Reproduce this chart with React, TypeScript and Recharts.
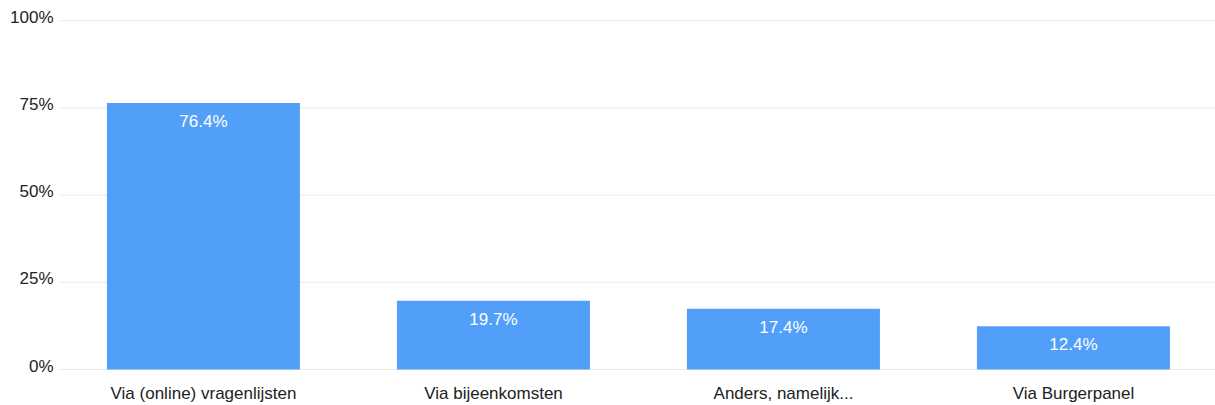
import React from 'react';
import { BarChart, Bar, XAxis, YAxis, CartesianGrid, LabelList } from 'recharts';

const categories = ['Via (online) vragenlijsten', 'Via bijeenkomsten', 'Anders, namelijk...', 'Via Burgerpanel'];
const percentages = [76.4, 19.7, 17.4, 12.4];
const yTicks = [0, 25, 50, 75, 100];

const data = categories.map((name, i) => ({ name, value: percentages[i] }));

const font = '"Liberation Sans", Arial, sans-serif';

const YTick = (props: any) => {
    const { x, y, payload } = props;
    return (
        <text x={x} y={y} dy={2} textAnchor="end" fill="#222" fontSize={17} fontFamily={font}>
            {payload.value}%
        </text>
    );
};

const XTick = (props: any) => {
    const { x, y, payload } = props;
    return (
        <text x={x} y={y} dy={12} textAnchor="middle" fill="#222" fontSize={17} fontFamily={font}>
            {payload.value}
        </text>
    );
};

const App: React.FC = () => {
    return (
        <div style={{ position: 'absolute', top: 0, left: 0, width: 1215, height: 405, overflow: 'hidden' }}>
            <BarChart
                width={1218.5}
                height={405}
                data={data}
                margin={{ top: 20.7, right: 0, left: 0, bottom: 0 }}
                barCategoryGap="16.7%"
                style={{ overflow: 'visible' }}
            >
                <CartesianGrid vertical={false} stroke="#ebebeb" />
                <YAxis
                    domain={[0, 100]}
                    ticks={yTicks}
                    width={58.5}
                    axisLine={false}
                    tickLine={false}
                    tickSize={0}
                    tickMargin={5}
                    tick={<YTick />}
                />
                <XAxis
                    dataKey="name"
                    height={35.5}
                    axisLine={false}
                    tickLine={false}
                    tickSize={0}
                    tickMargin={17}
                    tick={<XTick />}
                    interval={0}
                />
                <Bar dataKey="value" fill="#529ffa" isAnimationActive={false}>
                    <LabelList
                        dataKey="value"
                        position="insideTop"
                        offset={12}
                        formatter={(v: any) => `${v}%`}
                        fill="#fff"
                        fontSize={17}
                        fontFamily={font}
                    />
                </Bar>
            </BarChart>
        </div>
    );
};

export default App;
